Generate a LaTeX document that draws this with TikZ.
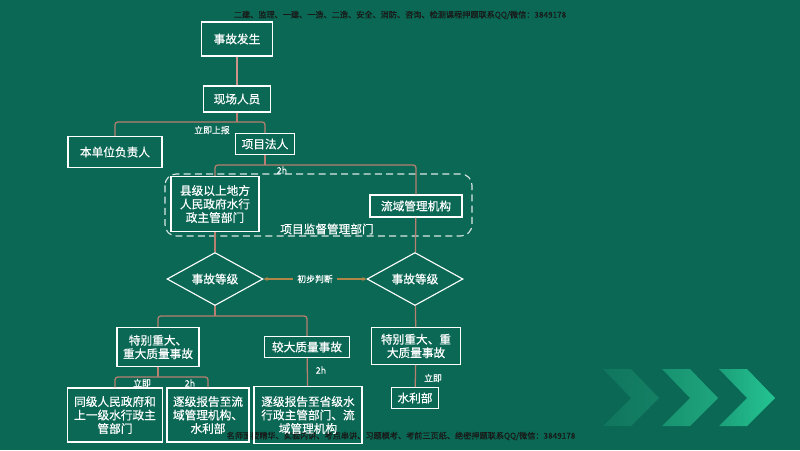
\documentclass[tikz,border=0pt]{standalone}
\usepackage{fontspec}
\setmainfont{Noto Sans CJK SC}
\newfontfamily\boxfont{Noto Sans CJK SC}[FakeBold=0.5]
\usepackage{tikz}
\usetikzlibrary{positioning,shapes.geometric,arrows.meta}
\newlength\pxu
\setlength\pxu{0.025cm}
\definecolor{BgGreen}{RGB}{10,104,84}
\definecolor{LinkBrown}{RGB}{184,128,112}
\definecolor{ArrowOlive}{RGB}{176,134,72}
\definecolor{ChevA}{RGB}{16,118,94}
\definecolor{ChevB}{RGB}{20,128,100}
\definecolor{ChevC}{RGB}{24,146,112}
\definecolor{ChevD}{RGB}{30,166,126}
\definecolor{ChevE}{RGB}{28,160,122}
\definecolor{ChevF}{RGB}{36,196,146}
\tikzset{
    box/.style={rectangle, draw=white, line width=0.8pt, text=white, align=center, inner sep=0pt, font=\boxfont\fontsize{8.3}{9.6}\selectfont},
    link/.style={draw=LinkBrown, line width=0.9pt, rounded corners=2pt},
    tag/.style={text=white, font=\boxfont\fontsize{6.3}{7}\selectfont, inner sep=1pt}
}

\begin{document}
\begin{tikzpicture}[
        x=\pxu, y=-1\pxu,
        % --- dieu kien ---
        decision/.style={
            diamond,
            draw=white,
            line width=0.8pt,
            text=white,
            aspect=1.8,
            inner sep=0pt,
            minimum width=96\pxu,
            minimum height=53\pxu,
            font=\boxfont\fontsize{8.3}{9.6}\selectfont
        },
        % --- chu nho tren/duoi ---
        notice/.style={
            text=black!90,
            inner sep=0pt,
            font=\boxfont\fontsize{5.8}{6.4}\selectfont
        }
    ]

        % --- NEN ---
        \fill[BgGreen] (0,0) rectangle (800,450);
        \useasboundingbox (0,0) rectangle (800,450);

        % --- MUI TEN GOC PHAI ---
        \foreach \dx/\ca/\cb in {0/ChevA/ChevB, 59/ChevC/ChevD, 116/ChevE/ChevF} {
            \shade[left color=\ca, right color=\cb]
                (603+\dx,369) -- (631+\dx,369) -- (659+\dx,398) -- (631+\dx,426)
                -- (603+\dx,426) -- (631+\dx,398) -- cycle;
        }

        % --- CHU TREN / DUOI ---
        \node[notice] (toptext) at (400,15) {二建、监理、一建、一造、二造、安全、消防、咨询、检测课程押题联系QQ/微信：3849178};
        \node[notice] (bottomtext) at (401,436) {名师面授精华、实验内讲、考点串讲、习题模考、考前三页纸、绝密押题联系QQ/微信：3849178};

        % --- CAC HOP ---
        \node[box, line width=1.3pt, minimum width=71\pxu, minimum height=34\pxu] (shigu) at (237,39) {事故发生};
        \node[box, minimum width=67\pxu, minimum height=26\pxu] (xianchang) at (237,99) {现场人员};
        \node[box, minimum width=94\pxu, minimum height=31\pxu] (benwei) at (115,152) {本单位负责人};
        \node[box, minimum width=59\pxu, minimum height=21\pxu] (faren) at (265,144) {项目法人};

        % khung net dut
        \draw[white!85!BgGreen, line width=0.8pt, dash pattern=on 5pt off 3pt, rounded corners=8pt]
            (165,174) rectangle (472,236);
        \node[text=white, inner sep=0pt, font=\boxfont\fontsize{8.3}{9.6}\selectfont] (jiandu) at (327,229) {项目监督管理部门};

        \node[box, minimum width=88\pxu, minimum height=55\pxu] (xianji) at (215,204) {县级以上地方\\人民政府水行\\政主管部门};
        \node[box, minimum width=92\pxu, minimum height=22\pxu] (liuyu) at (416,206) {流域管理机构};

        \node[decision] (dengji1) at (215,279) {事故等级};
        \node[decision] (dengji2) at (415,279) {事故等级};

        \node[box, minimum width=82\pxu, minimum height=39\pxu] (tebie1) at (158,347) {特别重大、\\重大质量事故};
        \node[box, minimum width=85\pxu, minimum height=21\pxu] (jiaoda) at (307,347) {较大质量事故};
        \node[box, minimum width=89\pxu, minimum height=37\pxu] (tebie2) at (416,346) {特别重大、重\\大质量事故};

        \node[box, minimum width=95\pxu, minimum height=54\pxu] (tongji) at (115,415) {同级人民政府和\\上一级水行政主\\管部门};
        \node[box, minimum width=82\pxu, minimum height=54\pxu] (zhuji1) at (208,415) {逐级报告至流\\域管理机构、\\水利部};
        \node[box, minimum width=108\pxu, minimum height=57\pxu] (zhuji2) at (308,415) {逐级报告至省级水\\行政主管部门、流\\域管理机构};
        \node[box, minimum width=47\pxu, minimum height=21\pxu] (shuili) at (415,398) {水利部};

        % --- DUONG NOI ---
        \coordinate (j1) at (237,122);
        \coordinate (j2) at (265,165);
        \coordinate (j3) at (215,316);
        \coordinate (j4) at (158,377);

        \draw[link, draw=LinkBrown!70!pink] (shigu) -- (xianchang);
        \draw[link] (xianchang) -- (j1);
        \draw[link] (benwei.north) |- (j1) -| (faren.north);
        \node[tag] at (212,130) {立即上报};

        \draw[link] (faren) -- (j2);
        \draw[link] (xianji.north) |- (j2) -| (liuyu.north);
        \node[tag] at (282,170) {2h};

        \draw[link] (xianji) -- (dengji1);
        \draw[link] (liuyu) -- (dengji2);

        \draw[ArrowOlive, line width=0.8pt, {Stealth[length=3pt,width=3pt]}-{Stealth[length=3pt,width=3pt]}]
            (dengji1.east) -- node[tag, fill=BgGreen, inner sep=3pt] {初步判断} (dengji2.west);

        \draw[link] (dengji1) -- (j3);
        \draw[link] (tebie1.north) |- (j3) -| (jiaoda.north);

        \draw[link] (tebie1) -- (j4);
        \draw[link] (tongji.north) |- (j4) -| (zhuji1.north);
        \node[tag] at (142,383) {立即};
        \node[tag] at (190,383) {2h};

        \draw[link] (jiaoda) -- (zhuji2);
        \node[tag] at (321,370) {2h};

        \draw[link] (dengji2) -- (tebie2);
        \draw[link] (tebie2) -- (shuili);
        \node[tag] at (433,378) {立即};

    \end{tikzpicture}
\end{document}
